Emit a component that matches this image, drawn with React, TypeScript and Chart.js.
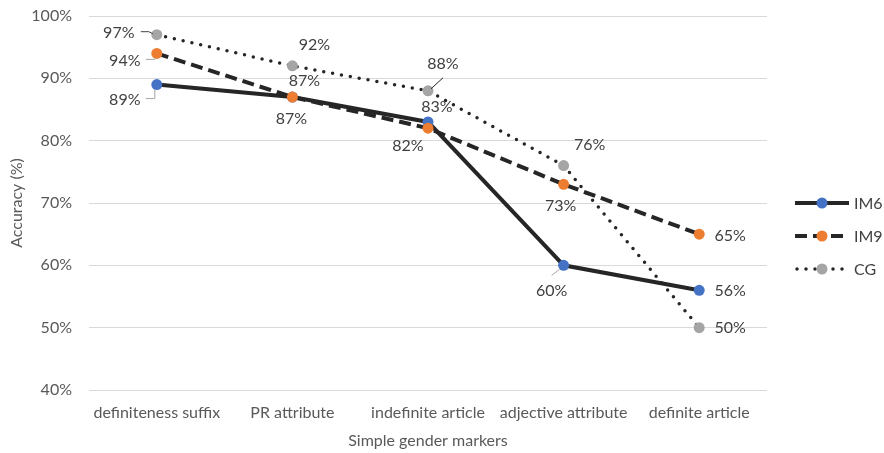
import React, { useEffect, useRef } from 'react';
import { Chart, registerables } from 'chart.js';

Chart.register(...registerables);

const categories = ['definiteness suffix', 'PR attribute', 'indefinite article', 'adjective attribute', 'definite article'];
const seriesNames = ['IM6', 'IM9', 'CG'];
const im6Values = [89, 87, 83, 60, 56];
const im9Values = [94, 87, 82, 73, 65];
const cgValues = [97, 92, 88, 76, 50];
const yMin = 40;
const yMax = 100;
const yStep = 10;

// styling
const markerColors = ['#4472C4', '#ED7D31', '#A5A5A5'];
const lineDashes: number[][] = [[], [12, 6], [0, 9]];
const lineWidths = [4, 4, 3.5];
const FONT = 'Lato, "Open Sans", sans-serif';
const FONT_SIZE = 16;
const TEXT_COLOR = '#595959';
const LABEL_COLOR = '#404040';

// label offsets [dx, dy] from the point, per series per category
const labelOffsets: number[][][] = [
  [[-32, 15], [-1, 22], [9, -15], [-12, 26], [31, 1]],
  [[-32, 7], [12, -16], [-20, 18], [-3, 22], [31, 2]],
  [[-38, -2], [22, -21], [15, -27], [26, -21], [31, 0]],
];
// leader lines: [series, index, color, polyline relative to point]
const leaders: { s: number; i: number; color: string; pts: number[][] }[] = [
  { s: 2, i: 0, color: '#404040', pts: [[-16, -3], [-8, -3], [-4, -1]] },
  { s: 1, i: 0, color: '#A6A6A6', pts: [[-11, 6], [-2, 6], [-2, 5]] },
  { s: 0, i: 0, color: '#A6A6A6', pts: [[-11, 14], [-2, 14], [-2, 5]] },
  { s: 2, i: 2, color: '#262626', pts: [[15, -13], [3, -2]] },
  { s: 0, i: 3, color: '#A6A6A6', pts: [[-12, 10], [-4, 4]] },
];

const dataLabelPlugin = {
  id: 'dataLabelPlugin',
  afterDatasetsDraw(chart: any) {
    const ctx = chart.ctx;
    ctx.save();
    leaders.forEach((l) => {
      const el = chart.getDatasetMeta(l.s).data[l.i];
      ctx.beginPath();
      ctx.strokeStyle = l.color;
      ctx.lineWidth = 1;
      ctx.setLineDash([]);
      l.pts.forEach((p, k) => {
        if (k === 0) ctx.moveTo(el.x + p[0], el.y + p[1]);
        else ctx.lineTo(el.x + p[0], el.y + p[1]);
      });
      ctx.stroke();
    });
    ctx.font = `${FONT_SIZE}px ${FONT}`;
    ctx.fillStyle = LABEL_COLOR;
    ctx.textAlign = 'center';
    ctx.textBaseline = 'middle';
    chart.data.datasets.forEach((ds: any, s: number) => {
      const meta = chart.getDatasetMeta(s);
      meta.data.forEach((el: any, i: number) => {
        const off = labelOffsets[s][i];
        ctx.fillText(`${ds.data[i]}%`, el.x + off[0], el.y + off[1]);
      });
    });
    ctx.restore();
  },
  afterDraw(chart: any) {
    const ctx = chart.ctx;
    ctx.save();
    const ys = [203, 236, 269];
    seriesNames.forEach((name, s) => {
      const y = ys[s];
      ctx.beginPath();
      ctx.strokeStyle = '#262626';
      ctx.lineWidth = lineWidths[s];
      ctx.lineCap = s === 2 ? 'round' : 'butt';
      ctx.setLineDash(s === 1 ? [12, 6] : lineDashes[s]);
      ctx.moveTo(s === 2 ? 797 : 795, y);
      ctx.lineTo(849, y);
      ctx.stroke();
      ctx.setLineDash([]);
      ctx.beginPath();
      ctx.fillStyle = markerColors[s];
      ctx.arc(822, y, 5.5, 0, Math.PI * 2);
      ctx.fill();
      ctx.fillStyle = LABEL_COLOR;
      ctx.font = `${FONT_SIZE}px ${FONT}`;
      ctx.textAlign = 'left';
      ctx.textBaseline = 'middle';
      ctx.fillText(name, 854, y + 1);
    });
    ctx.restore();
  },
};

export default function App() {
  const ref = useRef<HTMLCanvasElement>(null);
  useEffect(() => {
    document.body.style.margin = '0';
    const values = [im6Values, im9Values, cgValues];
    const chart = new Chart(ref.current as HTMLCanvasElement, {
      type: 'line',
      data: {
        labels: categories,
        datasets: seriesNames.map((name, s) => ({
          label: name,
          data: values[s],
          borderColor: '#262626',
          borderWidth: lineWidths[s],
          borderDash: lineDashes[s],
          borderCapStyle: s === 2 ? 'round' : 'butt',
          backgroundColor: markerColors[s],
          pointBackgroundColor: markerColors[s],
          pointBorderColor: markerColors[s],
          pointBorderWidth: 0,
          pointRadius: 5.5,
          pointHoverRadius: 5.5,
          tension: 0,
          fill: false,
          order: 2 - s,
        })) as any,
      },
      options: {
        responsive: false,
        maintainAspectRatio: false,
        animation: false,
        layout: { padding: { top: 16, right: 117, left: 0, bottom: 0 } },
        plugins: { legend: { display: false }, tooltip: { enabled: false } },
        scales: {
          x: {
            type: 'category',
            offset: true,
            grid: { display: false, drawTicks: false },
            border: { display: false },
            ticks: { color: TEXT_COLOR, font: { family: FONT, size: FONT_SIZE }, padding: 13, maxRotation: 0, autoSkip: false },
            title: { display: true, text: 'Simple gender markers', color: TEXT_COLOR, font: { family: FONT, size: FONT_SIZE }, padding: { top: 4, bottom: 3 } },
            afterFit: (s: any) => { s.height = 63; s.paddingLeft = 0; s.paddingRight = 0; },
          },
          y: {
            min: yMin,
            max: yMax,
            ticks: { stepSize: yStep, color: TEXT_COLOR, font: { family: FONT, size: FONT_SIZE }, padding: 17, callback: (v: any) => `${v}%` },
            grid: { color: '#D9D9D9', lineWidth: 1, drawTicks: false },
            border: { display: false },
            title: { display: true, text: 'Accuracy (%)', color: TEXT_COLOR, font: { family: FONT, size: FONT_SIZE }, padding: { top: 7, bottom: 4 } },
            afterFit: (s: any) => { s.width = 89; s.paddingTop = 0; s.paddingBottom = 0; },
          },
        },
      },
      plugins: [dataLabelPlugin],
    });
    return () => chart.destroy();
  }, []);
  return (
    <div style={{ width: 884, height: 453 }}>
      <canvas ref={ref} width={884} height={453} style={{ display: 'block', width: 884, height: 453 }} />
    </div>
  );
}
